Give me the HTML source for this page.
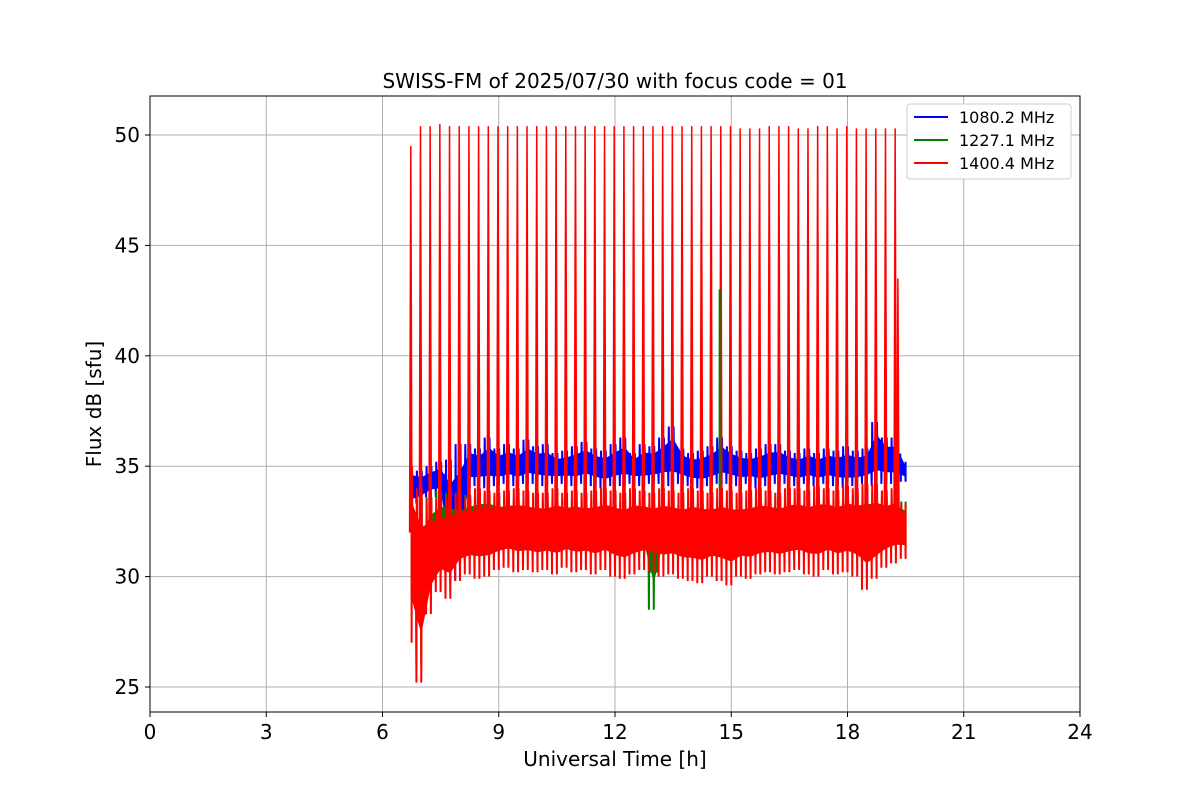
<!DOCTYPE html>
<html><head><meta charset="utf-8">
<style>
body{margin:0;background:#fff;}
svg text{font-family:"DejaVu Sans","Liberation Sans",sans-serif;fill:#000;}
</style></head>
<body>
<svg id="chart" width="1200" height="800" xmlns="http://www.w3.org/2000/svg">
<rect width="1200" height="800" fill="#fff"/>
<text x="615" y="88" font-size="20" text-anchor="middle">SWISS-FM of 2025/07/30 with focus code = 01</text>
<g id="grid"></g>
<g id="plot"></g>
<rect x="150" y="96" width="930" height="616" fill="none" stroke="#000" stroke-width="1"/>
<g id="ticks"></g>
<text x="615" y="766" font-size="20" text-anchor="middle">Universal Time [h]</text>
<text x="101" y="404" font-size="20" text-anchor="middle" transform="rotate(-90 101 404)">Flux dB [sfu]</text>
<g>
<rect x="907" y="104" width="164" height="75" rx="3" fill="#fff" stroke="#ccc"/>
<line x1="914" y1="117" x2="948" y2="117" stroke="#0000ff" stroke-width="2"/>
<text x="959" y="123" font-size="16">1080.2 MHz</text>
<line x1="914" y1="140" x2="948" y2="140" stroke="#008000" stroke-width="2"/>
<text x="959" y="146" font-size="16">1227.1 MHz</text>
<line x1="914" y1="163" x2="948" y2="163" stroke="#ff0000" stroke-width="2"/>
<text x="959" y="169" font-size="16">1400.4 MHz</text>
</g>
</svg>
<script>
const xTicks=[0,3,6,9,12,15,18,21,24];
const yTicks=[25,30,35,40,45,50];
const binTimes=[6.75,7.0,7.25,7.5,7.75,8.0,8.25,8.5,8.75,9.0,9.25,9.5,9.75,10.0,10.25,10.5,10.75,11.0,11.25,11.5,11.75,12.0,12.25,12.5,12.75,13.0,13.25,13.5,13.75,14.0,14.25,14.5,14.75,15.0,15.25,15.5,15.75,16.0,16.25,16.5,16.75,17.0,17.25,17.5,17.75,18.0,18.25,18.5,18.75,19.0,19.25,19.5];
const blueLow=[33.0,33.3,33.6,33.6,29.7,29.8,34.0,34.1,34.0,34.1,34.2,34.1,34.2,34.2,34.1,34.2,34.2,34.1,34.2,34.1,34.0,34.1,34.1,34.2,34.1,34.2,34.2,34.1,34.2,34.1,34.0,34.1,34.2,34.2,34.1,34.2,34.0,34.1,34.2,34.2,34.1,34.2,34.1,34.2,34.1,34.0,34.1,34.2,34.1,34.2,34.2,34.3];
const blueHigh=[35.0,34.8,35.0,35.2,35.3,36.0,36.0,35.8,36.3,35.8,36.0,35.8,36.2,35.9,36.0,35.6,35.7,35.9,36.1,35.8,35.7,36.0,36.3,35.6,36.0,35.9,36.3,36.8,35.8,35.6,35.7,35.9,36.3,35.9,35.7,35.6,35.8,36.0,36.0,35.7,35.6,35.8,35.6,35.8,35.7,35.9,35.7,35.8,37.0,36.3,36.3,35.2];
const greenLow=[29.0,26.0,29.5,30.2,30.3,30.5,31.0,31.2,31.3,31.4,31.5,31.5,31.4,31.3,31.4,31.3,31.3,31.2,31.4,31.2,31.1,31.0,30.8,31.0,30.9,28.5,31.0,31.1,31.0,31.2,31.1,31.0,30.9,31.0,31.2,31.3,31.4,31.3,31.2,31.4,31.3,31.2,31.3,31.2,31.4,31.2,31.3,31.2,31.4,31.3,31.2,31.3];
const greenHigh=[34.0,33.5,33.6,33.9,33.8,33.6,33.7,33.8,33.8,33.6,33.6,33.5,33.5,33.6,33.4,33.5,33.5,33.4,33.5,33.5,33.4,33.4,33.4,33.5,33.4,33.3,33.4,33.4,33.5,33.4,33.3,33.4,33.5,33.4,33.3,33.5,33.5,33.5,33.6,33.5,33.5,33.4,33.5,33.5,33.5,33.6,33.7,33.8,33.8,33.6,33.7,33.4];
const redLow=[27.0,25.2,28.3,29.3,29.0,29.8,30.1,29.9,30.0,30.3,30.4,30.2,30.3,30.2,30.3,30.1,30.4,30.2,30.3,30.1,30.3,30.0,29.9,30.1,30.3,30.2,30.0,30.1,29.9,29.8,29.7,30.0,29.8,29.6,30.0,29.9,30.1,30.2,30.1,30.2,30.3,30.1,30.0,30.3,30.1,30.2,30.0,29.4,29.9,30.4,30.6,30.8];
const redHigh=[35.0,34.0,33.5,33.5,33.6,33.8,33.6,34.0,33.9,33.8,33.9,34.0,33.9,33.8,33.8,34.0,33.8,33.9,33.8,33.9,34.0,33.9,33.8,34.0,33.9,33.8,34.0,33.9,33.8,34.0,33.9,33.8,34.0,33.9,33.8,33.9,34.0,33.9,33.8,34.0,34.0,33.9,34.1,34.0,33.9,34.1,34.0,34.2,34.2,33.9,34.0,33.3];
const spikeTimes=[6.73,6.98,7.23,7.48,7.73,7.98,8.23,8.48,8.73,8.98,9.23,9.48,9.73,9.98,10.23,10.48,10.73,10.98,11.23,11.48,11.73,11.98,12.23,12.48,12.73,12.98,13.23,13.48,13.73,13.98,14.23,14.48,14.73,14.98,15.23,15.48,15.73,15.98,16.23,16.48,16.73,16.98,17.23,17.48,17.73,17.98,18.23,18.48,18.73,18.98,19.23,19.3];
const spikePeaks=[49.5,50.4,50.4,50.5,50.4,50.4,50.4,50.4,50.4,50.4,50.4,50.4,50.4,50.4,50.4,50.4,50.4,50.4,50.4,50.4,50.4,50.4,50.4,50.4,50.4,50.4,50.4,50.4,50.4,50.4,50.4,50.4,50.4,50.4,50.3,50.3,50.3,50.4,50.4,50.4,50.3,50.3,50.4,50.4,50.3,50.4,50.3,50.3,50.3,50.3,50.3,43.5];
const greenSpikeTimes=[14.7];
const greenSpikePeaks=[43.0];

const X=t=>150+t*930/24;
const Y=v=>135+(50-v)*(552/25);
const NS="http://www.w3.org/2000/svg";
const grid=document.getElementById('grid'),plot=document.getElementById('plot'),ticks=document.getElementById('ticks');
function mk(tag,attrs,parent){const e=document.createElementNS(NS,tag);for(const k in attrs)e.setAttribute(k,attrs[k]);parent.appendChild(e);return e;}
xTicks.forEach(t=>{
 const g=mk('line',{x1:X(t),x2:X(t),y1:96,y2:712,stroke:'#b0b0b0','stroke-width':1},grid);
 
 
 const tk=mk('line',{x1:X(t),x2:X(t),y1:712,y2:717,stroke:'#000'},ticks);
 
 
 const tx=mk('text',{x:X(t),y:739,'font-size':20,'text-anchor':'middle'},ticks);tx.textContent=t;
 
 
});
yTicks.forEach(v=>{
 const g=mk('line',{x1:150,x2:1080,y1:Y(v),y2:Y(v),stroke:'#b0b0b0','stroke-width':1},grid);
 
 
 const tk=mk('line',{x1:145,x2:150,y1:Y(v),y2:Y(v),stroke:'#000'},ticks);
 
 
 const tx=mk('text',{x:140,y:Y(v)+7,'font-size':20,'text-anchor':'end'},ticks);tx.textContent=v;
 
 
});
function band(lo,hi,color,name){
 const dt=0.25,steps=20;let pts=[];
 for(let i=0;i<binTimes.length;i++){
  const t0=binTimes[i]-dt/2;
  for(let k=0;k<steps;k++){
   const t=Math.max(binTimes[0],Math.min(binTimes[binTimes.length-1],t0+k*dt/steps));
   const v=(k%2===0)?lo[i]:hi[i];
   const w=(k%10<2)?0:0.35*(hi[i]-lo[i]);
   pts.push(X(t).toFixed(1)+','+Y(k%2===0?v+w:v-w).toFixed(1));
  }
 }
 const p=mk('polyline',{points:pts.join(' '),fill:'none',stroke:color,'stroke-width':2},plot);
 
 
 const top=binTimes.map((t,i)=>X(t).toFixed(1)+','+Y(hi[i]-0.2*(hi[i]-lo[i])).toFixed(1));
 const bot=binTimes.map((t,i)=>X(t).toFixed(1)+','+Y(lo[i]+0.25*(hi[i]-lo[i])).toFixed(1)).reverse();
 const f=mk('polygon',{points:top.concat(bot).join(' '),fill:color},plot);
 
 
}
band(blueLow,blueHigh,'#0000ff','series-1080');
band(greenLow,greenHigh,'#008000','series-1227');
band(redLow,redHigh,'#ff0000','series-1400');
spikeTimes.forEach((t,i)=>{
 const l=mk('polyline',{points:`${X(t)-1.2},${Y(32)} ${X(t)},${Y(spikePeaks[i])} ${X(t)+1.2},${Y(32)}`,fill:'#ff0000',stroke:'#ff0000','stroke-width':1.5},plot);
 
 
});
greenSpikeTimes.forEach((t,i)=>{
 const l=mk('line',{x1:X(t),x2:X(t),y1:Y(34),y2:Y(greenSpikePeaks[i]),stroke:'#008000','stroke-width':2},plot);
 
 
});
</script>
</body></html>
